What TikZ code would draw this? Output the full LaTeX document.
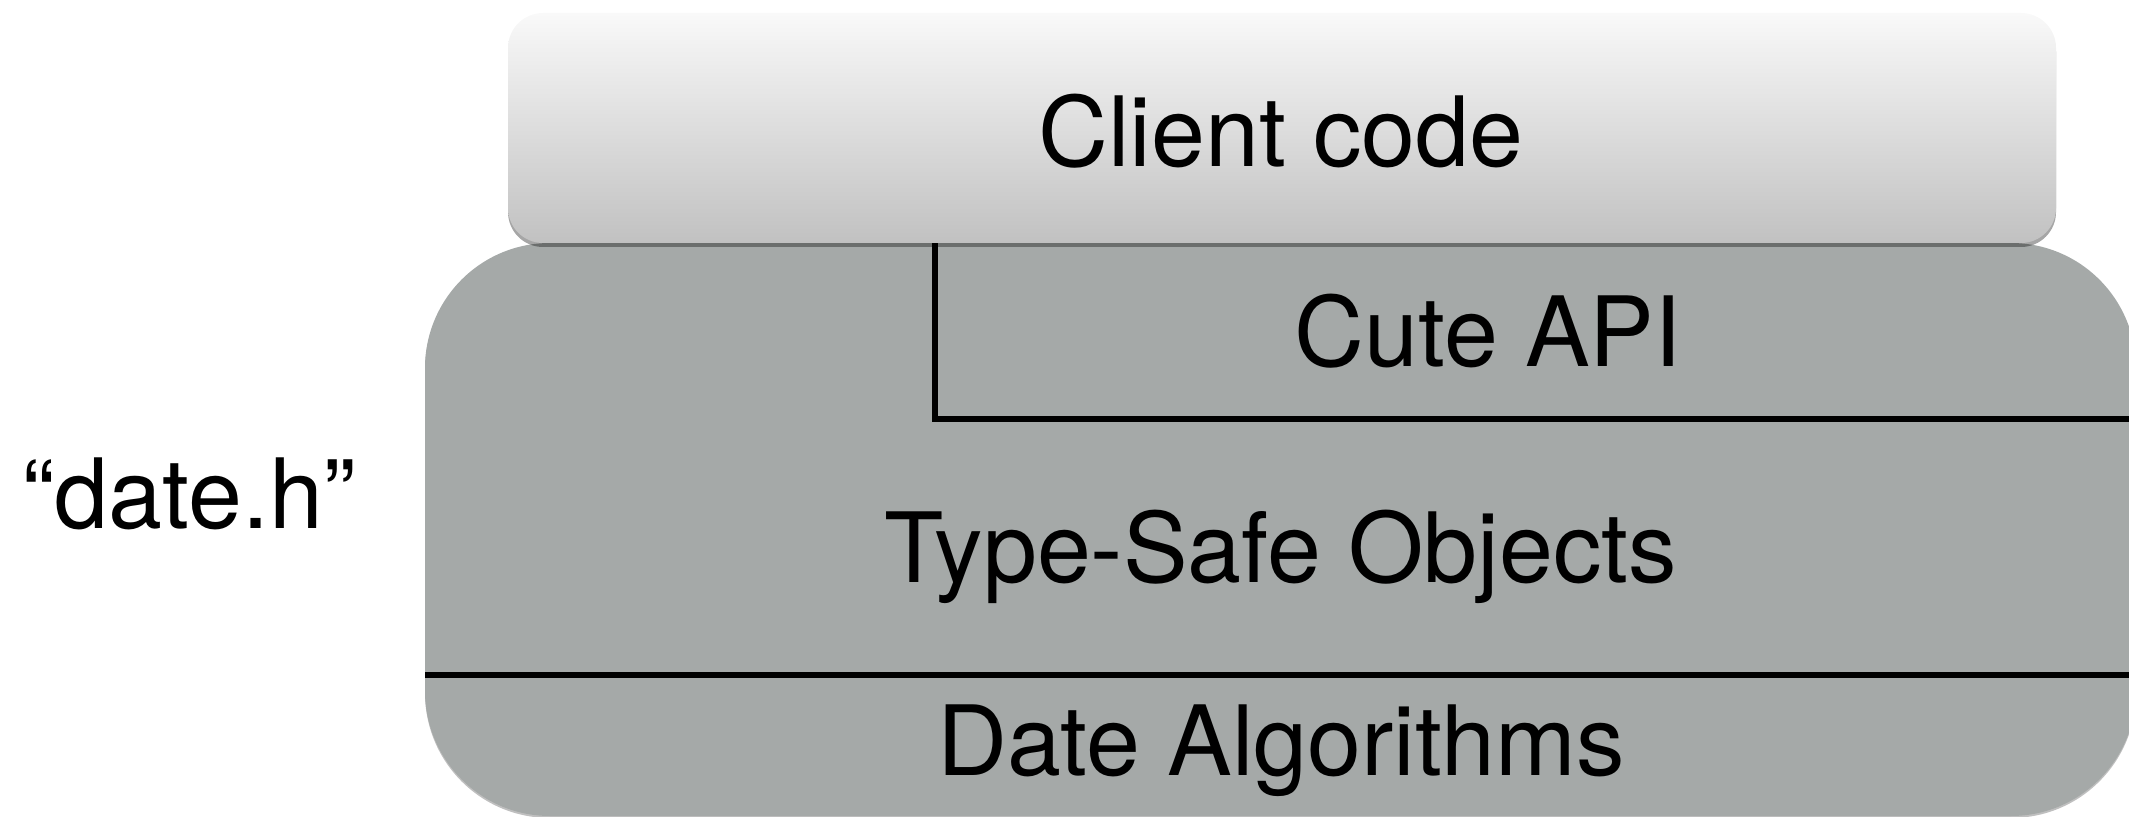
\documentclass[tikz,border=0pt]{standalone}
\usepackage{fontspec}
\setmainfont{TeX Gyre Heros}
\usetikzlibrary{shadows}
\definecolor{layergray}{RGB}{165,169,168}
\definecolor{clienttop}{RGB}{249,249,249}
\definecolor{clientbot}{RGB}{193,193,193}
\tikzset{
  layerlabel/.style={font=\fontsize{48.5}{58}\selectfont, inner sep=0pt, anchor=base, text=black},
  divider/.style={line width=3pt, draw=black},
  layerbox/.style={fill=layergray, rounded corners=62.5pt,
    drop shadow={shadow xshift=0pt, shadow yshift=-1pt, opacity=0.25, fill=black}},
  clientbox/.style={top color=clienttop, bottom color=clientbot, rounded corners=17.5pt,
    drop shadow={shadow xshift=0pt, shadow yshift=-2pt, opacity=0.35, fill=black}}
}
\begin{document}
\begin{tikzpicture}[x=0.5pt,y=-0.5pt]
\useasboundingbox (0,0) rectangle (2129,817);
\begin{scope}
\clip (0,0) rectangle (2129,817);
% big gray layer box
\path[layerbox] (425,243) rectangle (2136,816);
% dividers
\coordinate (apiTL) at (935,243);
\coordinate (apiBL) at (935,419);
\coordinate (apiBR) at (2140,419);
\coordinate (algL) at (425,675);
\coordinate (algR) at (2140,675);
\draw[divider] (apiTL) -- (apiBL) -- (apiBR);
\draw[divider] (algL) -- (algR);
% client box
\path[clientbox] (508,13) rectangle (2056,243);
\end{scope}
% labels
\node[layerlabel] (client) at (1281,167) {Client code};
\node[layerlabel] (api) at (1488,367) {Cute API};
\node[layerlabel] (header) at (189,529) {“date.h”};
\node[layerlabel] (objects) at (1281,582) {Type-Safe Objects};
\node[layerlabel] (algos) at (1281,775) {Date Algorithms};
\end{tikzpicture}
\end{document}
